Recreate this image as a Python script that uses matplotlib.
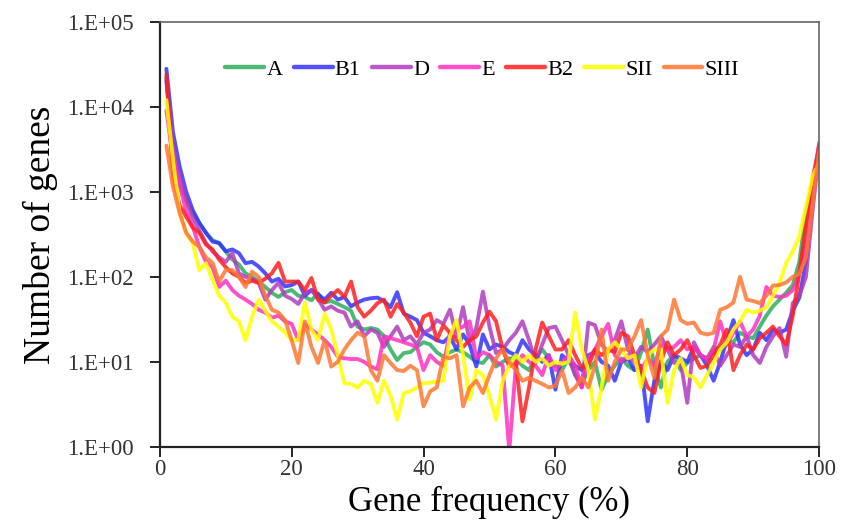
import numpy as np
import matplotlib
matplotlib.use("Agg")
import matplotlib.pyplot as plt
from matplotlib.ticker import FixedLocator, NullLocator

plt.rcParams['font.family'] = ['Liberation Serif', 'DejaVu Serif']

# gene frequency (%) on the x axis
freq = list(range(1, 101))

# number of genes per frequency bin
series_a = [22000, 2400, 1200, 800, 560, 430, 330, 270, 250, 200,
            160, 140, 110, 100, 88, 76, 65, 58, 66, 70,
            60, 58, 53, 64, 50, 52, 48, 44, 40, 26,
            24, 25, 24, 20, 14, 10.5, 12.7, 13, 15, 17,
            16, 13, 11.5, 13, 14, 13, 11.5, 10, 9.7, 12,
            8.8, 10, 11, 11, 9, 8, 11, 14, 11, 9,
            8, 11, 7, 5.5, 8, 10, 4.7, 7, 9, 11,
            9, 8, 13, 24, 9, 5, 10, 12, 8, 9.7,
            11, 12, 11, 15, 14, 18, 17, 22, 20, 19,
            26, 35, 45, 54, 65, 80, 150, 570, 1200, 2500]

series_b1 = [28000, 5000, 2000, 1000, 610, 430, 330, 260, 250, 200,
             210, 190, 145, 150, 132, 110, 88, 95, 77, 80,
             88, 60, 70, 62, 54, 65, 54, 58, 45, 50,
             54, 56, 57, 52, 44, 66, 37, 34, 31, 22,
             20, 18, 17, 20, 14, 21, 16, 8.8, 21, 14,
             16, 15, 13, 12, 18, 14, 12, 10, 12, 4.7,
             12, 10, 9, 8, 12, 13, 10, 9, 6, 10,
             11, 8, 9, 2, 6, 10, 8, 12, 11, 10,
             15, 12, 9, 6, 10, 18, 31, 16, 12, 14,
             22, 18, 24, 22, 24, 40, 57, 150, 800, 3000]

series_d = [20000, 3500, 1500, 800, 500, 350, 250, 200, 170, 150,
            190, 110, 100, 95, 85, 54, 70, 85, 60, 55,
            48, 65, 70, 55, 41, 45, 40, 38, 26, 30,
            20, 24, 22, 15, 20, 26, 18, 20, 16, 22,
            24, 31, 28, 41, 20, 44, 17, 25, 67, 26,
            12.7, 14, 18, 22, 30, 18, 9.7, 16, 25, 26,
            18, 12, 7, 5, 29, 27, 16, 13, 18, 30,
            14, 11, 15, 13, 16, 20, 14, 9.7, 10, 3.3,
            17, 12, 10, 14, 9, 12, 16, 15, 20, 12,
            9.7, 15, 20, 25, 11.5, 49, 60, 100, 600, 3000]

series_e = [9000, 2500, 1200, 600, 390, 225, 150, 130, 76, 90,
            70, 60, 54, 48, 41, 38, 33, 35, 30, 28,
            18, 28, 24, 21, 18, 15, 11.5, 11, 10.8, 10.8,
            10, 8.8, 8.2, 20, 19, 18, 17, 16, 15, 8,
            12, 10, 9, 22, 24, 26, 30, 11, 13, 12,
            10, 9, 0.9, 9, 12, 10, 9, 7, 12, 8,
            10, 12, 9, 5, 11, 14, 20, 28, 12, 10,
            12, 10, 8, 11, 9, 16, 14, 15, 18, 14,
            15, 12, 11, 14, 30, 16, 22, 30, 20, 24,
            35, 76, 60, 58, 60, 70, 110, 250, 1000, 3800]

series_b2 = [24000, 1500, 700, 510, 380, 330, 240, 210, 160, 130,
             110, 100, 85, 90, 85, 95, 110, 146, 88, 88,
             88, 70, 97, 54, 50, 60, 70, 58, 88, 44,
             34, 40, 49, 54, 34, 48, 38, 29, 20, 34,
             37, 18, 27, 22, 18, 15, 18, 20, 29, 39,
             30, 14, 8.8, 10, 2, 5, 14, 29, 20, 14,
             14, 18, 12, 8.5, 9, 14, 12, 14, 13, 22,
             20, 12, 8, 5, 4.3, 10, 17, 12, 14, 18,
             12, 8.5, 9, 12, 16, 24, 8, 12, 16, 14,
             19, 22, 26, 20, 16, 35, 110, 400, 1400, 3500]

series_sii = [12000, 2400, 570, 330, 250, 120, 145, 92, 60, 50,
              34, 30, 18, 34, 54, 40, 30, 26, 22, 18,
              18, 50, 24, 18, 37, 24, 12, 5.6, 5.5, 5,
              6, 5.5, 3.3, 6, 4, 2.1, 4.3, 4.5, 5, 5.6,
              5.7, 5.8, 6, 20, 31, 12, 3.6, 8, 7, 4,
              2.1, 6, 9, 12, 10, 12, 10, 11, 9, 10,
              9.5, 10, 38, 14, 8, 2.1, 5, 14, 17, 14,
              11, 12, 5, 12, 14, 14, 3.3, 8, 11, 7,
              6.6, 5, 7, 9.7, 14, 17, 24, 30, 41, 38,
              40, 44, 60, 85, 146, 200, 300, 660, 1500, 2200]

series_siii = [3500, 1150, 570, 330, 260, 225, 170, 146, 88, 120,
               120, 100, 76, 115, 100, 60, 41, 38, 31, 18,
               9.7, 30, 15, 9.7, 18, 8.8, 10, 14, 18, 22,
               20, 8, 6, 12, 9.7, 8, 7.8, 9, 8, 3,
               4.5, 5, 11.5, 11, 12, 3, 5, 6, 4.3, 7,
               11, 14, 10, 8, 6, 6.5, 6, 5.5, 5, 5.2,
               8, 4.3, 5, 6.5, 5, 9, 24, 6, 10, 14,
               14, 20, 31, 12, 6.5, 20, 24, 54, 31, 28,
               29, 22, 21, 22, 41, 44, 50, 100, 54, 52,
               49, 60, 79, 80, 86, 100, 108, 170, 700, 3000]

names = ['A', 'B1', 'D', 'E', 'B2', 'SII', 'SIII']
values = [series_a, series_b1, series_d, series_e, series_b2, series_sii, series_siii]
colors = ['#2EAD5C', '#3333FF', '#B03CC0', '#FF30C0', '#FF2020', '#FFFF00', '#FF7733']

fig = plt.figure(figsize=(8.41, 5.32), dpi=100)
ax = fig.add_axes([0.190, 0.160, 0.784, 0.799])

for name, vals, col in zip(names, values, colors):
    ax.plot(freq, vals, color=col, lw=2.8, alpha=0.85, label=name,
            solid_joinstyle='round', solid_capstyle='round')

ax.set_yscale('log')
ax.set_ylim(1, 1e5)
ax.set_xlim(0, 100)

yt = [1, 10, 100, 1000, 10000, 100000]
ax.yaxis.set_major_locator(FixedLocator(yt))
ax.yaxis.set_minor_locator(NullLocator())
ax.set_yticklabels(['1.E+%02d' % i for i in range(6)])
ax.set_xticks([0, 20, 40, 60, 80, 100])

ax.tick_params(axis='both', direction='out', length=7, width=1.2,
               labelsize=16.5, labelcolor='#333333')
ax.tick_params(axis='y', pad=12)
ax.tick_params(axis='x', pad=2)

for side in ['left', 'bottom']:
    ax.spines[side].set_linewidth(1.6)
    ax.spines[side].set_color('#222222')
for side in ['top', 'right']:
    ax.spines[side].set_linewidth(1.2)
    ax.spines[side].set_color('#666666')

ax.set_xlabel('Gene frequency (%)', fontsize=25, labelpad=4)
ax.set_ylabel('Number of genes', fontsize=27, labelpad=6)

leg = ax.legend(loc='center', bbox_to_anchor=(0.489, 0.887), ncol=7, frameon=False,
                fontsize=16, handlelength=1.75, handletextpad=0.1, columnspacing=0.5)
for h in leg.get_lines():
    h.set_linewidth(3.2)

fig.savefig('out.png', dpi=100)
